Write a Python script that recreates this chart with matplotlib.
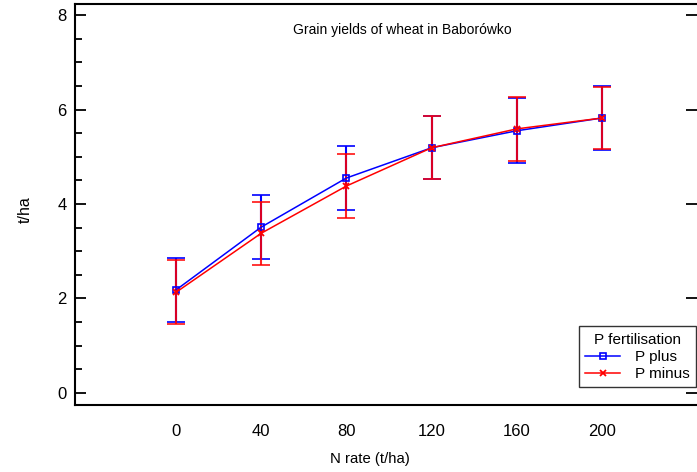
import matplotlib
matplotlib.use('Agg')
import matplotlib.pyplot as plt
from matplotlib.ticker import MultipleLocator
from matplotlib.lines import Line2D

plt.rcParams['font.family'] = ['Liberation Sans', 'DejaVu Sans']

n_rate = [0, 40, 80, 120, 160, 200]
p_plus = [2.18, 3.51, 4.55, 5.19, 5.55, 5.82]
p_plus_err = [0.67, 0.68, 0.68, 0.67, 0.69, 0.68]
p_minus = [2.13, 3.38, 4.38, 5.19, 5.59, 5.82]
p_minus_err = [0.68, 0.67, 0.67, 0.67, 0.67, 0.66]

fig = plt.figure(figsize=(6.97, 4.72), dpi=100)
ax = fig.add_axes([0.1076, 0.142, 0.8924, 0.8495])

ax.errorbar(n_rate, p_plus, yerr=p_plus_err, color='#0000ff', lw=1.1,
            marker='s', mfc='none', mec='#0000ff', ms=5, mew=1.2,
            capsize=6.5, capthick=1.5, elinewidth=1.5)
ax.errorbar(n_rate, p_minus, yerr=p_minus_err, color='#ff0000', lw=1.1,
            marker='x', ms=5, mew=1.3, ecolor=(1, 0, 0, 0.85),
            capsize=6.5, capthick=1.5, elinewidth=1.5)

ax.set_xlim(-47.4, 244.6)
ax.set_ylim(-0.254, 8.233)
ax.set_xticks(n_rate)
ax.yaxis.set_major_locator(MultipleLocator(2))
ax.yaxis.set_minor_locator(MultipleLocator(0.5))
ax.tick_params(axis='x', length=0, labelsize=12, pad=14)
ax.tick_params(axis='y', which='major', direction='in', length=8, width=1.3,
               labelsize=12, pad=6, right=True)
ax.tick_params(axis='y', which='minor', direction='in', length=4.8, width=1.3)
ax.tick_params(axis='y', which='minor', right=False)

for s in ['left', 'bottom', 'top']:
    ax.spines[s].set_linewidth(1.5)
ax.spines['right'].set_visible(False)

ax.text(0.526, 0.935, 'Grain yields of wheat in Baborówko', transform=ax.transAxes,
        ha='center', va='center', fontsize=10)
fig.text(370 / 697, 1 - 459 / 472, 'N rate (t/ha)', ha='center', va='center', fontsize=10.7)
fig.text(25 / 697, 1 - 210 / 472, 't/ha', ha='center', va='center', rotation=90, fontsize=11.5)

handles = [
    Line2D([], [], color='#0000ff', lw=1.1, marker='s', mfc='none', mec='#0000ff', ms=5, mew=1.2),
    Line2D([], [], color='#ff0000', lw=1.1, marker='x', ms=5, mew=1.3),
]
leg = ax.legend(handles, ['P plus', 'P minus'], title='P fertilisation', loc='lower right',
                bbox_to_anchor=(1.0, 0.042), fontsize=11, title_fontsize=11,
                frameon=True, fancybox=False, edgecolor='black', handlelength=2.3,
                borderpad=0.4, labelspacing=0.22, handletextpad=1.0, borderaxespad=0.05)
leg.get_frame().set_linewidth(1.0)

fig.savefig('out.png', dpi=100)
